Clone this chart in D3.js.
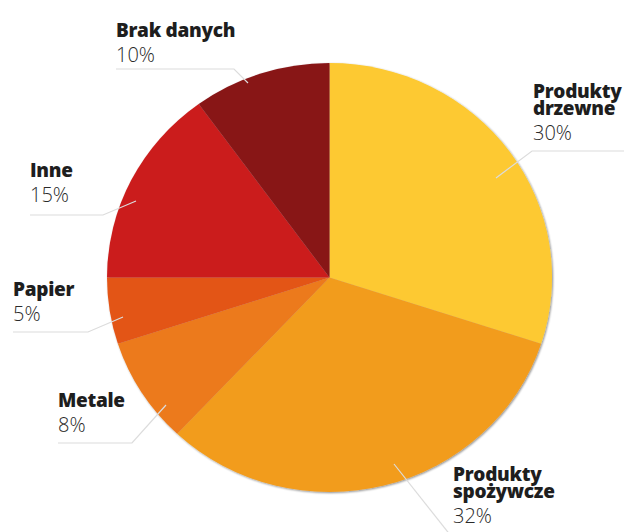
<!DOCTYPE html>
<html>
<head>
<meta charset="utf-8">
<script src="https://cdn.jsdelivr.net/npm/d3@7"></script>
<style>
  html, body { margin: 0; padding: 0; background: #fff; }
  svg { display: block; }
  .lbl { font-family: "Open Sans", sans-serif; font-weight: 800; font-size: 19px; fill: #1e1e1e; letter-spacing: -0.3px; }
  .pct { font-family: "Open Sans", sans-serif; font-weight: 300; font-size: 20px; fill: #2a2a2a; }
</style>
</head>
<body>
<svg id="chart" width="624" height="532"></svg>
<script>
// Data
const categories = ["Produkty drzewne", "Produkty spożywcze", "Metale", "Papier", "Inne", "Brak danych"];
const labelLines = [["Produkty", "drzewne"], ["Produkty", "spożywcze"], ["Metale"], ["Papier"], ["Inne"], ["Brak danych"]];
const values = [30, 32, 8, 5, 15, 10];
const percentLabels = ["30%", "32%", "8%", "5%", "15%", "10%"];
const colors = ["#FDC930", "#F29C1E", "#EC7A1B", "#E35417", "#CB1F1D", "#881519"];

// Layout (label anchor + leader line geometry), not data
const layout = [
  { x: 533, y: 98, anchor: "start", line: [[624, 151], [532, 151], [496, 178]] },
  { x: 453, y: 481, anchor: "start", line: [[394, 464], [451, 536]] },
  { x: 58, y: 407, anchor: "start", line: [[58, 443], [132, 443], [166, 405]] },
  { x: 13, y: 296, anchor: "start", line: [[13, 332], [88, 332], [123, 317]] },
  { x: 30, y: 177, anchor: "start", line: [[30, 215], [103, 215], [136, 201]] },
  { x: 116, y: 37, anchor: "start", line: [[116, 69], [234, 69], [248, 83]] }
];

const svg = d3.select("#chart");
const cx = 329.5, cy = 277.5, r = 222.5, yScale = 214.5 / 222.5;

const color = d3.scaleOrdinal().domain(categories).range(colors);
const pie = d3.pie().sort(null).value(d => d.value);
const arc = d3.arc().innerRadius(0).outerRadius(r);

const data = categories.map((c, i) => ({ name: c, value: values[i] }));

const defs = svg.append("defs");
const f = defs.append("filter").attr("id", "sh").attr("x", "-10%").attr("y", "-10%").attr("width", "120%").attr("height", "120%");
f.append("feGaussianBlur").attr("in", "SourceAlpha").attr("stdDeviation", 1.2).attr("result", "b");
f.append("feOffset").attr("in", "b").attr("dx", 0.6).attr("dy", 1.2).attr("result", "o");
f.append("feComponentTransfer").attr("in", "o").attr("result", "o2")
  .append("feFuncA").attr("type", "linear").attr("slope", 0.45);
const m = f.append("feMerge");
m.append("feMergeNode").attr("in", "o2");
m.append("feMergeNode").attr("in", "SourceGraphic");

const g = svg.append("g")
  .attr("transform", `translate(${cx},${cy}) scale(1,${yScale})`)
  .attr("filter", "url(#sh)");

g.selectAll("path")
  .data(pie(data))
  .join("path")
  .attr("d", arc)
  .attr("fill", d => color(d.data.name));

// Leader lines
const lineGen = d3.line();
svg.append("g").selectAll("path")
  .data(layout)
  .join("path")
  .attr("d", d => lineGen(d.line))
  .attr("fill", "none")
  .attr("stroke", "#dcdcdc")
  .attr("stroke-width", 1.2);

// Labels
const lg = svg.append("g");
layout.forEach((L, i) => {
  labelLines[i].forEach((s, j) => {
    lg.append("text").attr("class", "lbl").attr("text-anchor", L.anchor)
      .attr("x", L.x).attr("y", L.y + j * 17).text(s);
  });
  const n = labelLines[i].length;
  lg.append("text").attr("class", "pct")
    .attr("x", L.x).attr("y", L.y + (n - 1) * 17 + 25)
    .text(percentLabels[i]);
});
</script>
</body>
</html>
